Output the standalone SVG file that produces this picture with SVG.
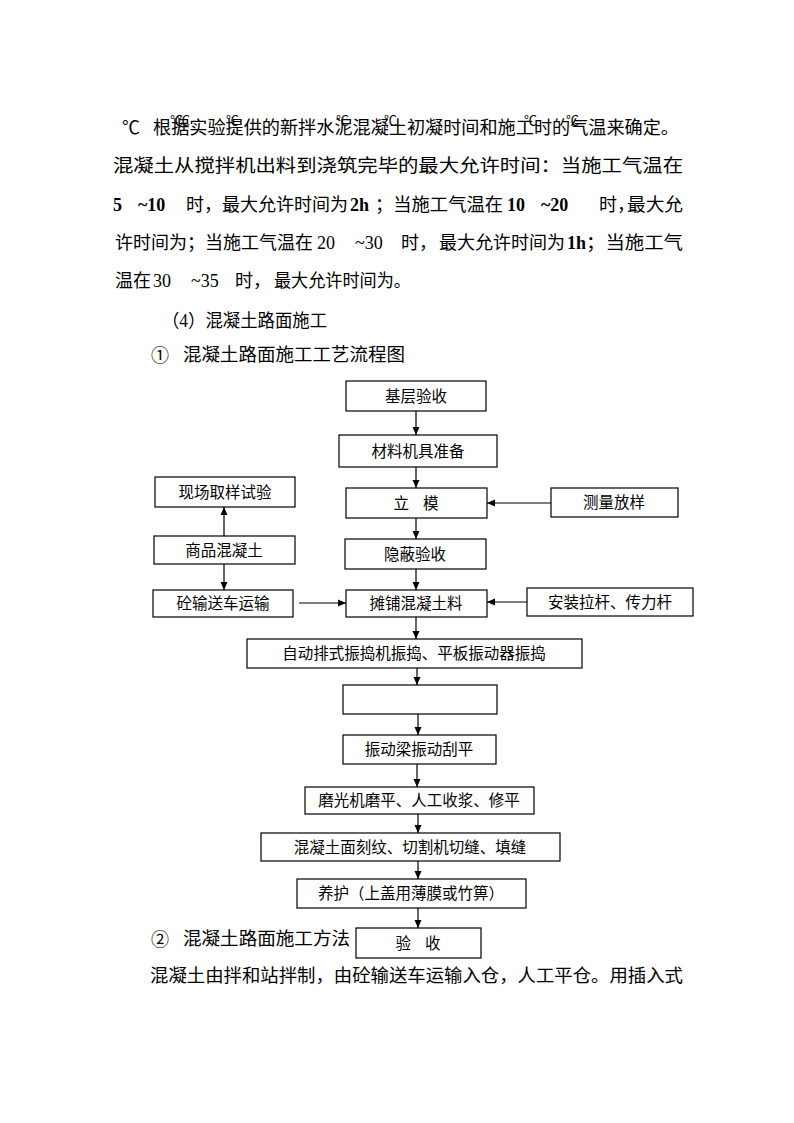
<svg xmlns="http://www.w3.org/2000/svg" width="794" height="1123" viewBox="0 0 794 1123">
<style>
  .p { font-family: "Liberation Serif", "Noto Sans CJK SC", serif; font-size: 18px; fill: #000; }
  .b { font-weight: bold; }
  .sym { font-family: "Liberation Serif", "Noto Sans CJK SC", serif; font-size: 13px; fill: #000; }
  .box { fill: #fff; stroke: #000; stroke-width: 1.2; }
  .t { font-family: "Noto Sans CJK SC", "Liberation Sans", sans-serif; font-size: 15.5px; fill: #000; text-anchor: middle; }
  .c line { stroke: #000; stroke-width: 1.2; }
</style>
<defs>
  <marker id="ah" markerUnits="userSpaceOnUse" markerWidth="9" markerHeight="8" refX="8" refY="4" orient="auto">
    <path d="M0,0.5 L8,4 L0,7.5 z" fill="#000"/>
  </marker>
</defs>
<rect width="794" height="1123" fill="#fff"/>

<g id="para">
  <text class="p" x="122" y="134" font-size="19">℃</text>
  <text class="p" x="153" y="134" textLength="526" lengthAdjust="spacingAndGlyphs">根据实验提供的新拌水泥混凝土初凝时间和施工时的气温来确定。</text>
  <text class="sym" x="170" y="125">℃</text>
  <text class="sym" x="177" y="125">℃</text>
  <text class="sym" x="226" y="125">℃</text>
  <text class="sym" x="336" y="125">℃</text>
  <text class="sym" x="384" y="125">℃</text>
  <text class="sym" x="524" y="125">℃</text>
  <text class="sym" x="566" y="125">℃</text>

  <text class="p" x="113" y="172" textLength="570" lengthAdjust="spacingAndGlyphs">混凝土从搅拌机出料到浇筑完毕的最大允许时间：当施工气温在</text>

  <text class="p b" x="113" y="211">5</text>
  <text class="p b" x="138" y="211">~10</text>
  <text class="p" x="186" y="211">时，</text>
  <text class="p" x="222" y="211" textLength="126" lengthAdjust="spacingAndGlyphs">最大允许时间为</text>
  <text class="p b" x="350" y="211">2h</text>
  <text class="p" x="375" y="211" textLength="128" lengthAdjust="spacingAndGlyphs">；当施工气温在</text>
  <text class="p b" x="507" y="211">10</text>
  <text class="p b" x="541" y="211">~20</text>
  <text class="p" x="599" y="211">时，</text>
  <text class="p" x="627" y="211" textLength="56" lengthAdjust="spacingAndGlyphs">最大允</text>

  <text class="p" x="115" y="249" textLength="198" lengthAdjust="spacingAndGlyphs">许时间为；当施工气温在</text>
  <text class="p" x="317" y="249">20</text>
  <text class="p" x="355" y="249">~30</text>
  <text class="p" x="401" y="249">时，</text>
  <text class="p" x="439" y="249" textLength="126" lengthAdjust="spacingAndGlyphs">最大允许时间为</text>
  <text class="p b" x="567" y="249">1h</text>
  <text class="p" x="586" y="249" textLength="97" lengthAdjust="spacingAndGlyphs">；当施工气</text>

  <text class="p" x="115" y="287">温在</text>
  <text class="p" x="153" y="287">30</text>
  <text class="p" x="191" y="287">~35</text>
  <text class="p" x="235" y="287">时，</text>
  <text class="p" x="274" y="287" textLength="137" lengthAdjust="spacingAndGlyphs">最大允许时间为。</text>

  <text class="p" x="162" y="327" textLength="165" lengthAdjust="spacingAndGlyphs">（4）混凝土路面施工</text>
  <text class="p" x="151" y="362" font-size="21">①</text>
  <text class="p" x="183" y="361" textLength="222" lengthAdjust="spacingAndGlyphs">混凝土路面施工工艺流程图</text>

  <text class="p" x="151" y="946" font-size="21">②</text>
  <text class="p" x="183" y="945" textLength="167" lengthAdjust="spacingAndGlyphs">混凝土路面施工方法</text>
  <text class="p" x="150" y="982" textLength="533" lengthAdjust="spacingAndGlyphs">混凝土由拌和站拌制，由砼输送车运输入仓，人工平仓。用插入式</text>
</g>

<g id="connectors" class="c">
  <line x1="416" y1="411" x2="416" y2="435" marker-end="url(#ah)"/>
  <line x1="416" y1="467" x2="416" y2="488" marker-end="url(#ah)"/>
  <line x1="416" y1="518" x2="416" y2="539" marker-end="url(#ah)"/>
  <line x1="416" y1="569" x2="416" y2="590" marker-end="url(#ah)"/>
  <line x1="416" y1="617" x2="416" y2="639" marker-end="url(#ah)"/>
  <line x1="417" y1="668" x2="417" y2="685" marker-end="url(#ah)"/>
  <line x1="418" y1="714" x2="418" y2="735" marker-end="url(#ah)"/>
  <line x1="417" y1="764" x2="417" y2="787" marker-end="url(#ah)"/>
  <line x1="418" y1="814" x2="418" y2="833" marker-end="url(#ah)"/>
  <line x1="418" y1="861" x2="418" y2="879" marker-end="url(#ah)"/>
  <line x1="418" y1="908" x2="418" y2="928" marker-end="url(#ah)"/>
  <line x1="224" y1="536" x2="224" y2="507" marker-end="url(#ah)"/>
  <line x1="224" y1="564" x2="224" y2="590" marker-end="url(#ah)"/>
  <line x1="299" y1="603" x2="346" y2="603" marker-end="url(#ah)"/>
  <line x1="551" y1="503" x2="487" y2="503" marker-end="url(#ah)"/>
  <line x1="527" y1="602" x2="487" y2="602" marker-end="url(#ah)"/>
</g>

<g id="n1"><rect class="box" x="346" y="381" width="140" height="30"/><text class="t" x="416" y="401.5">基层验收</text></g>
<g id="n2"><rect class="box" x="339" y="435" width="158" height="32"/><text class="t" x="418" y="456.5">材料机具准备</text></g>
<g id="n3"><rect class="box" x="155" y="477" width="140" height="30"/><text class="t" x="225" y="497.5">现场取样试验</text></g>
<g id="n4"><rect class="box" x="346" y="488" width="141" height="30"/><text class="t" x="416" y="508.5" xml:space="preserve">立    模</text></g>
<g id="n5"><rect class="box" x="551" y="488" width="127" height="29"/><text class="t" x="614" y="508">测量放样</text></g>
<g id="n6"><rect class="box" x="154" y="536" width="141" height="28"/><text class="t" x="224" y="555.5">商品混凝土</text></g>
<g id="n7"><rect class="box" x="345" y="539" width="141" height="30"/><text class="t" x="415" y="559.5">隐蔽验收</text></g>
<g id="n8"><rect class="box" x="153" y="590" width="140" height="27"/><text class="t" x="223" y="609">砼输送车运输</text></g>
<g id="n9"><rect class="box" x="346" y="590" width="141" height="27"/><text class="t" x="416" y="609">摊铺混凝土料</text></g>
<g id="n10"><rect class="box" x="527" y="588" width="166" height="28"/><text class="t" x="610" y="607.5">安装拉杆、传力杆</text></g>
<g id="n11"><rect class="box" x="247" y="639" width="335" height="29"/><text class="t" x="414" y="659">自动排式振捣机振捣、平板振动器振捣</text></g>
<g id="n12"><rect class="box" x="343" y="685" width="154" height="29"/></g>
<g id="n13"><rect class="box" x="343" y="735" width="153" height="29"/><text class="t" x="419" y="755">振动梁振动刮平</text></g>
<g id="n14"><rect class="box" x="305" y="787" width="229" height="27"/><text class="t" x="419" y="806">磨光机磨平、人工收浆、修平</text></g>
<g id="n15"><rect class="box" x="261" y="833" width="299" height="28"/><text class="t" x="410" y="852.5">混凝土面刻纹、切割机切缝、填缝</text></g>
<g id="n16"><rect class="box" x="297" y="879" width="229" height="29"/><text class="t" x="411" y="899">养护（上盖用薄膜或竹箅）</text></g>
<g id="n17"><rect class="box" x="356" y="928" width="125" height="30"/><text class="t" x="418" y="948.5" xml:space="preserve">验    收</text></g>
</svg>
